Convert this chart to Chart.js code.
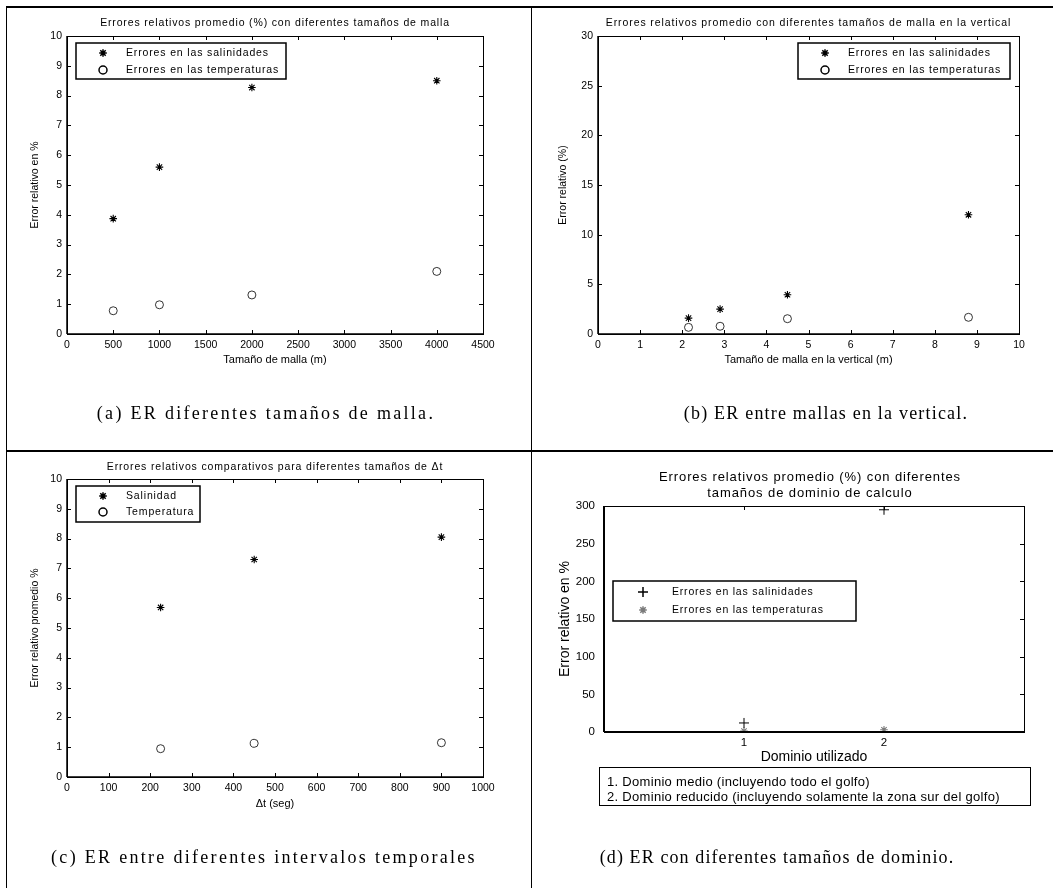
<!DOCTYPE html>
<html>
<head>
<meta charset="utf-8">
<script src="https://cdn.jsdelivr.net/npm/chart.js@4"></script>
<style>
body { margin: 0; background: #fff; }
#page { position: relative; width: 1053px; height: 888px; overflow: hidden; background: #fff; }
canvas { position: absolute; left: 0; top: 0; pointer-events: none; }
.rule { position: absolute; background: #000; }
.cap { position: absolute; font-family: "Liberation Serif", "Times New Roman", serif; font-size: 18px;
       white-space: nowrap; line-height: 20px; color: #000; transform: translateX(-50%); }
#note { position: absolute; left: 599px; top: 767px; width: 432px; height: 39px; border: 1px solid #000;
        font-family: "Liberation Sans", Arial, sans-serif; font-size: 13px; line-height: 15px;
        letter-spacing: 0.3px; padding: 6px 0 0 7px; box-sizing: border-box; white-space: nowrap; }
</style>
</head>
<body>
<div id="page">
  <div class="rule" style="left:6px;top:6px;width:1047px;height:2px"></div>
  <div class="rule" style="left:6px;top:6px;width:1px;height:882px"></div>
  <div class="rule" style="left:531px;top:6px;width:1px;height:882px"></div>
  <div class="rule" style="left:6px;top:450px;width:1047px;height:2px"></div>

  <canvas id="cA" width="1053" height="888"></canvas>
  <canvas id="cB" width="1053" height="888"></canvas>
  <canvas id="cC" width="1053" height="888"></canvas>
  <canvas id="cD" width="1053" height="888"></canvas>

  <div id="note">1. Dominio medio (incluyendo todo el golfo)<br>2. Dominio reducido (incluyendo solamente la zona sur del golfo)</div>

  <div class="cap" style="left:266px;top:403px;letter-spacing:2.3px">(a) ER diferentes tamaños de malla.</div>
  <div class="cap" style="left:826px;top:403px;letter-spacing:1.2px">(b) ER entre mallas en la vertical.</div>
  <div class="cap" style="left:264px;top:847px;letter-spacing:2.3px">(c) ER entre diferentes intervalos temporales</div>
  <div class="cap" style="left:777px;top:847px;letter-spacing:1.1px">(d) ER con diferentes tamaños de dominio.</div>
</div>

<script>
const W = 1053, H = 888;

// (a) tamaño de malla horizontal
const mallaX    = [500, 1000, 2000, 4000];
const mallaSal  = [3.87, 5.6, 8.27, 8.5];
const mallaTemp = [0.78, 0.98, 1.31, 2.1];

// (b) tamaño de malla en la vertical
const vertX    = [2.15, 2.9, 4.5, 8.8];
const vertSal  = [1.6, 2.5, 3.95, 12.0];
const vertTemp = [0.67, 0.78, 1.54, 1.68];

// (c) intervalos temporales
const dtX    = [225, 450, 900];
const dtSal  = [5.69, 7.3, 8.05];
const dtTemp = [0.95, 1.13, 1.15];

// (d) dominio de calculo
const domX    = [1, 2];
const domSal  = [12, 295];
const domTemp = [1.3, 3];
const domTicks = [1, 2];

const FAMILY = '"Liberation Sans", Arial, sans-serif';
Chart.defaults.font.family = FAMILY;
Chart.defaults.color = '#000';

function pts(xs, ys) {
    return xs.map(function(x, i) { return { x: x, y: ys[i] }; });
}

function starSet(label, xs, ys, color) {
    return { label: label, data: pts(xs, ys), pointStyle: 'star', pointRadius: 3.8,
             borderColor: color || '#000', borderWidth: 1.1, showLine: false };
}
function circleSet(label, xs, ys) {
    return { label: label, data: pts(xs, ys), pointStyle: 'circle', pointRadius: 4,
             borderColor: '#000', backgroundColor: 'rgba(0,0,0,0)', borderWidth: 0.8, showLine: false };
}
function crossSet(label, xs, ys) {
    return { label: label, data: pts(xs, ys), pointStyle: 'cross', pointRadius: 5,
             borderColor: '#000', borderWidth: 1, showLine: false };
}

// MATLAB-like box: frame, inward ticks, title and boxed legend
const matlabBox = {
    id: 'matlabBox',
    afterDraw(chart, args, o) {
        const ctx = chart.ctx, a = chart.chartArea;
        const xs = chart.scales.x, ys = chart.scales.y;
        const tl = 4;
        ctx.save();
        ctx.strokeStyle = '#000';
        ctx.lineWidth = 1;
        ctx.strokeRect(a.left + 0.5, a.top + 0.5, a.width, a.height);
        ctx.lineWidth = o.axisWidth || 1.5;
        ctx.beginPath();
        ctx.moveTo(a.left, a.bottom); ctx.lineTo(a.right, a.bottom);
        ctx.moveTo(a.left, a.top); ctx.lineTo(a.left, a.bottom);
        ctx.stroke();

        ctx.lineWidth = 1;
        ctx.beginPath();
        xs.ticks.forEach(function(t) {
            const px = Math.round(xs.getPixelForValue(t.value)) + 0.5;
            if (o.ticks.bottom) { ctx.moveTo(px, a.bottom); ctx.lineTo(px, a.bottom - tl); }
            if (o.ticks.top)    { ctx.moveTo(px, a.top);    ctx.lineTo(px, a.top + tl); }
        });
        ys.ticks.forEach(function(t) {
            const py = Math.round(ys.getPixelForValue(t.value)) + 0.5;
            if (o.ticks.left)  { ctx.moveTo(a.left, py);  ctx.lineTo(a.left + tl, py); }
            if (o.ticks.right) { ctx.moveTo(a.right, py); ctx.lineTo(a.right - tl, py); }
        });
        ctx.stroke();

        // title
        ctx.fillStyle = '#000';
        ctx.textAlign = 'center';
        ctx.textBaseline = 'middle';
        ctx.font = o.titleSize + 'px ' + FAMILY;
        ctx.letterSpacing = o.titleSpacing + 'px';
        const cx = (a.left + a.right) / 2 + (o.titleShift || 0);
        o.title.forEach(function(line, i) { ctx.fillText(line, cx, o.titleY[i]); });

        // legend
        const lg = o.legend;
        ctx.lineWidth = 1.5;
        ctx.strokeRect(lg.x, lg.y, lg.w, lg.h);
        ctx.font = lg.size + 'px ' + FAMILY;
        ctx.letterSpacing = lg.spacing + 'px';
        ctx.textAlign = 'left';
        chart.data.datasets.forEach(function(ds, i) {
            const ry = lg.rows[i];
            ctx.strokeStyle = ds.borderColor;
            ctx.fillStyle = ds.backgroundColor || 'rgba(0,0,0,0)';
            Chart.helpers.drawPoint(ctx, { pointStyle: ds.pointStyle, radius: ds.pointRadius,
                                           borderWidth: ds.borderWidth, rotation: 0 }, lg.markerX, ry);
            ctx.fillStyle = '#000';
            ctx.fillText(ds.label, lg.textX, ry);
        });
        ctx.restore();
    }
};

function plain(v) { return String(v); }

function panel(id, p) {
    return new Chart(document.getElementById(id), {
        type: 'scatter',
        data: { datasets: p.datasets },
        options: {
            responsive: false,
            animation: false,
            events: [],
            layout: { padding: { left: p.area.left - p.yW, top: p.area.top,
                                 right: W - p.area.right, bottom: H - p.area.bottom - p.xH } },
            plugins: { legend: { display: false }, tooltip: { enabled: false }, matlabBox: p.box },
            scales: {
                x: {
                    type: 'linear', min: p.x.min, max: p.x.max,
                    grid: { display: false, drawTicks: false }, border: { display: false },
                    ticks: { stepSize: p.x.step, autoSkip: false, maxRotation: 0, padding: p.x.pad,
                             font: { size: p.tickSize }, callback: plain },
                    afterBuildTicks: p.x.fixed ? function(s) { s.ticks = p.x.fixed.map(function(v) { return { value: v }; }); } : undefined,
                    title: { display: true, text: p.x.title, padding: { top: 0, bottom: 1 },
                             font: { size: p.x.titleSize } },
                    afterFit: function(s) { s.height = p.xH; }
                },
                y: {
                    type: 'linear', min: p.y.min, max: p.y.max,
                    grid: { display: false, drawTicks: false }, border: { display: false },
                    ticks: { stepSize: p.y.step, autoSkip: false, padding: p.y.pad,
                             font: { size: p.tickSize }, callback: plain },
                    title: { display: true, text: p.y.title, padding: { top: 1, bottom: 0 },
                             font: { size: p.y.titleSize } },
                    afterFit: function(s) { s.width = p.yW; }
                }
            }
        },
        plugins: [matlabBox]
    });
}

const allTicks = { top: true, bottom: true, left: true, right: true };

panel('cA', {
    datasets: [starSet('Errores en las salinidades', mallaX, mallaSal),
               circleSet('Errores en las temperaturas', mallaX, mallaTemp)],
    area: { left: 67, right: 483, top: 36, bottom: 334 }, yW: 39, xH: 34, tickSize: 10.5,
    x: { min: 0, max: 4500, step: 500, pad: 5, title: 'Tamaño de malla (m)', titleSize: 11 },
    y: { min: 0, max: 10, step: 1, pad: 5, title: 'Error relativo en %', titleSize: 10.5 },
    box: { ticks: allTicks, title: ['Errores relativos promedio (%) con diferentes tamaños de malla'],
           titleY: [23], titleSize: 10.5, titleSpacing: 0.85,
           legend: { x: 76, y: 43, w: 210, h: 36, rows: [53, 70], markerX: 103, textX: 126, size: 10.5, spacing: 0.85 } }
});

panel('cB', {
    datasets: [starSet('Errores en las salinidades', vertX, vertSal),
               circleSet('Errores en las temperaturas', vertX, vertTemp)],
    area: { left: 598, right: 1019, top: 36, bottom: 334 }, yW: 42, xH: 34, tickSize: 10.5,
    x: { min: 0, max: 10, step: 1, pad: 5, title: 'Tamaño de malla en la vertical (m)', titleSize: 11 },
    y: { min: 0, max: 30, step: 5, pad: 5, title: 'Error relativo (%)', titleSize: 10.5 },
    box: { ticks: allTicks, title: ['Errores relativos promedio con diferentes tamaños de malla en la vertical'],
           titleY: [23], titleSize: 10.5, titleSpacing: 0.9,
           legend: { x: 798, y: 43, w: 212, h: 36, rows: [53, 70], markerX: 825, textX: 848, size: 10.5, spacing: 0.85 } }
});

panel('cC', {
    datasets: [starSet('Salinidad', dtX, dtSal),
               circleSet('Temperatura', dtX, dtTemp)],
    area: { left: 67, right: 483, top: 479, bottom: 777 }, yW: 39, xH: 35, tickSize: 10.5,
    x: { min: 0, max: 1000, step: 100, pad: 5, title: '\u0394t (seg)', titleSize: 11 },
    y: { min: 0, max: 10, step: 1, pad: 5, title: 'Error relativo promedio %', titleSize: 10.5 },
    box: { ticks: allTicks, title: ['Errores relativos comparativos para diferentes tamaños de \u0394t'],
           titleY: [467], titleSize: 10.5, titleSpacing: 0.85,
           legend: { x: 76, y: 486, w: 124, h: 36, rows: [496, 512], markerX: 103, textX: 126, size: 10.5, spacing: 0.85 } }
});

panel('cD', {
    datasets: [crossSet('Errores en las salinidades', domX, domSal),
               starSet('Errores en las temperaturas', domX, domTemp, '#7a7a7a')],
    area: { left: 604, right: 1024, top: 506, bottom: 732 }, yW: 48, xH: 35, tickSize: 11.5,
    x: { min: 0, max: 3, fixed: domTicks, pad: 4, title: 'Dominio utilizado', titleSize: 14 },
    y: { min: 0, max: 300, step: 50, pad: 9, title: 'Error relativo en %', titleSize: 14 },
    box: { ticks: { top: true, bottom: false, left: false, right: true }, axisWidth: 2,
           title: ['Errores relativos promedio (%) con diferentes', 'tamaños de dominio de calculo'],
           titleY: [477, 493], titleSize: 13, titleSpacing: 0.9, titleShift: -4,
           legend: { x: 613, y: 581, w: 243, h: 40, rows: [592, 610], markerX: 643, textX: 672, size: 10.5, spacing: 0.8 } }
});
</script>
</body>
</html>
